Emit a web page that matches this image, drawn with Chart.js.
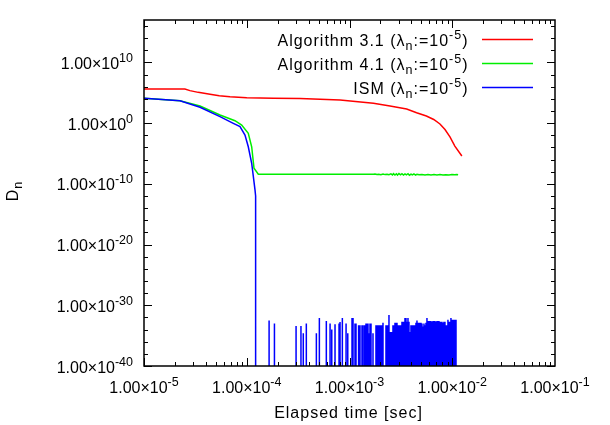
<!DOCTYPE html>
<html lang="en">
<head>
<meta charset="UTF-8">
<title>D_n vs elapsed time</title>
<script src="https://cdn.jsdelivr.net/npm/chart.js"></script>
<style>
  body { margin: 0; background: #fff; }
  canvas { display: block; }
</style>
</head>
<body>
<canvas id="dnChart" width="610" height="425"></canvas>
<script>
// Algorithm 3.1
const alg31Time = [1.0e-5, 2.5e-5, 2.8e-5, 3.37e-5, 4.39e-5, 5.4e-5, 6.87e-5, 1.0e-4, 1.82e-4, 3.3e-4, 8.1e-4,
  1.71e-3, 2.48e-3, 3.6e-3, 4.5e-3, 5.6e-3, 6.6e-3, 7.59e-3, 8.5e-3, 9.5e-3, 1.06e-2, 1.24e-2];
const alg31Dn = [4.3e5, 4.3e5, 2.3e5, 1.2e5, 5.8e4, 3.4e4, 2.3e4, 1.6e4, 1.3e4, 1.15e4, 6.6e3,
  1.9e3, 6.8e2, 2.2e2, 54, 15, 4.1, 0.74, 9.1e-2, 5.4e-3, 1.7e-4, 4.0e-6];

// Algorithm 4.1
const alg41Time = [1.0e-5, 1.5e-5, 2.24e-5, 3.51e-5, 5.49e-5, 7.68e-5, 8.93e-5, 1.035e-4, 1.117e-4, 1.177e-4, 1.296e-4, 1.71e-3,
  1.77e-3, 1.85e-3, 1.93e-3, 2.02e-3, 2.12e-3, 2.22e-3, 2.32e-3, 2.42e-3, 2.53e-3, 2.62e-3,
  2.68e-3, 2.77e-3, 2.86e-3, 2.93e-3, 3.03e-3, 3.14e-3, 3.24e-3, 3.35e-3, 3.47e-3, 3.58e-3,
  3.71e-3, 3.83e-3, 3.97e-3, 4.10e-3, 4.24e-3, 4.39e-3, 4.54e-3, 4.75e-3, 5.07e-3, 5.43e-3,
  5.80e-3, 6.21e-3, 6.64e-3, 7.10e-3, 7.59e-3, 8.12e-3, 8.68e-3, 9.29e-3, 9.93e-3, 1.06e-2,
  1.11e-2, 1.14e-2];
const alg41Dn = [1.26e4, 8.3e3, 5.1e3, 6.8e2, 22, 2.6, 0.5, 2.2e-2, 1.3e-4, 3.7e-8, 3.8e-9, 3.8e-9,
  4.2e-9, 3.5e-9, 4.0e-9, 3.3e-9, 4.3e-9, 3.4e-9, 3.9e-9, 3.2e-9, 4.4e-9, 3.0e-9,
  4.9e-9, 2.9e-9, 4.6e-9, 2.8e-9, 5.0e-9, 3.1e-9, 4.7e-9, 2.8e-9, 4.5e-9, 3.2e-9,
  4.8e-9, 2.7e-9, 4.2e-9, 3.0e-9, 4.4e-9, 2.9e-9, 3.9e-9, 3.1e-9, 3.6e-9, 3.0e-9,
  3.5e-9, 2.9e-9, 3.4e-9, 3.0e-9, 3.5e-9, 2.9e-9, 3.3e-9, 3.0e-9, 3.4e-9, 3.1e-9,
  3.6e-9, 3.3e-9];

// ISM: smooth part, then sharp drop below the axis
const ismTime = [1.0e-5, 1.5e-5, 2.24e-5, 3.51e-5, 5.49e-5, 7.40e-5, 8.60e-5, 9.61e-5, 1.035e-4, 1.117e-4, 1.203e-4, 1.22e-4];
const ismDn = [1.26e4, 8.0e3, 5.1e3, 4.2e2, 12, 0.96, 0.27, 1.1e-2, 1.3e-4, 2.5e-7, 1.0e-11, 1.0e-12];
// value between the spikes (far below the axis minimum)
const ismFloor = 1e-60;
// ISM spikes
const ismSpikeTime = [1.65e-4, 1.86e-4, 3.02e-4, 3.37e-4, 3.55e-4, 3.80e-4, 4.76e-4, 5.09e-4, 5.95e-4, 6.47e-4,
  6.72e-4, 7.23e-4, 7.91e-4, 8.09e-4, 8.52e-4, 9.26e-4, 9.62e-4,
  1.058e-3, 1.082e-3, 1.131e-3, 1.157e-3, 1.210e-3, 1.237e-3, 1.265e-3, 1.323e-3, 1.353e-3, 1.384e-3,
  1.415e-3, 1.447e-3, 1.480e-3, 1.513e-3, 1.548e-3, 1.583e-3, 1.619e-3, 1.693e-3, 1.810e-3, 1.851e-3,
  1.893e-3, 1.936e-3, 1.980e-3, 2.025e-3, 2.071e-3, 2.118e-3, 2.265e-3, 2.316e-3, 2.369e-3, 2.422e-3,
  2.477e-3, 2.533e-3, 2.591e-3, 2.649e-3, 2.709e-3, 2.771e-3, 2.834e-3, 2.898e-3, 2.963e-3, 3.031e-3,
  3.099e-3, 3.169e-3, 3.241e-3, 3.315e-3, 3.390e-3, 3.467e-3, 3.545e-3, 3.625e-3, 3.708e-3, 3.792e-3,
  3.878e-3, 3.965e-3, 4.055e-3, 4.147e-3, 4.241e-3, 4.337e-3, 4.435e-3, 4.535e-3, 4.638e-3, 4.743e-3,
  4.851e-3, 4.960e-3, 5.073e-3, 5.188e-3, 5.305e-3, 5.425e-3, 5.548e-3, 5.674e-3, 5.802e-3, 5.934e-3,
  6.068e-3, 6.206e-3, 6.346e-3, 6.490e-3, 6.637e-3, 6.787e-3, 6.941e-3, 7.098e-3, 7.259e-3, 7.423e-3,
  7.591e-3, 7.763e-3, 7.939e-3, 8.119e-3, 8.303e-3, 8.491e-3, 8.683e-3, 8.880e-3, 9.081e-3, 9.287e-3,
  9.497e-3, 9.712e-3, 9.932e-3, 1.017e-2, 1.040e-2, 1.064e-2, 1.088e-2];
const ismSpikeDn = [3.2e-33, 1.0e-33, 4.0e-34, 4.0e-34, 2.5e-35, 1.0e-33, 2.5e-35, 7.9e-33, 2.5e-33, 1.0e-33,
  1.0e-34, 7.9e-34, 1.0e-33, 1.8e-33, 7.9e-33, 1.0e-33, 2.5e-35,
  7.9e-33, 7.9e-33, 1.0e-33, 1.0e-33, 5.0e-34, 5.0e-34, 5.0e-34, 5.0e-34, 5.0e-34, 5.0e-34,
  5.0e-34, 1.0e-33, 1.0e-33, 1.0e-33, 2.5e-35, 1.0e-33, 1.0e-33, 2.5e-35, 5.0e-34, 5.0e-34,
  5.0e-34, 5.0e-34, 5.0e-34, 5.0e-34, 5.0e-34, 1.3e-33, 5.0e-34, 5.0e-34, 5.0e-34, 2.5e-32,
  4.0e-35, 4.0e-35, 4.0e-35, 5.0e-34, 5.0e-34, 1.3e-33, 1.3e-33, 1.3e-33, 5.0e-34, 5.0e-34,
  5.0e-34, 5.0e-34, 2.0e-33, 2.0e-33, 2.0e-33, 7.9e-33, 7.9e-33, 2.0e-33, 7.9e-33, 2.0e-33,
  4.0e-35, 5.0e-34, 5.0e-34, 5.0e-34, 5.0e-34, 5.0e-34, 1.3e-33, 3.2e-33, 1.3e-33, 1.3e-33,
  1.3e-33, 1.3e-33, 1.0e-33, 3.2e-34, 1.0e-33, 5.0e-34, 1.3e-33, 7.9e-33, 2.5e-33, 2.5e-33,
  2.5e-33, 2.5e-33, 2.0e-33, 2.5e-33, 2.5e-33, 2.5e-33, 2.0e-33, 2.5e-33, 2.5e-33, 2.5e-33,
  2.0e-33, 2.0e-33, 2.0e-33, 1.3e-33, 2.0e-33, 2.0e-33, 5.0e-34, 5.0e-34, 4.0e-33, 2.0e-33,
  2.0e-33, 7.9e-33, 4.0e-33, 4.0e-33, 4.0e-33, 4.0e-33, 4.0e-33];

const seriesNames = ['Algorithm 3.1', 'Algorithm 4.1', 'ISM'];
const seriesColors = ['#ff0000', '#00ee00', '#0000ff'];

// axes
const xMin = 1e-5, xMax = 1e-1;
const yMin = 1e-40, yMax = 1e17;
const xTicks = [1e-5, 1e-4, 1e-3, 1e-2, 1e-1];
const xTickExp = ['-5', '-4', '-3', '-2', '-1'];
const yTicks = [1e-40, 1e-30, 1e-20, 1e-10, 1e0, 1e10];
const yTickExp = ['-40', '-30', '-20', '-10', '0', '10'];

const FONT = '"Liberation Sans", Arial, Helvetica, sans-serif';

function toPoints(xs, ys) {
  return xs.map((x, i) => ({ x: x, y: ys[i] }));
}

const ismPoints = toPoints(ismTime, ismDn);
ismPoints.push({ x: ismTime[ismTime.length - 1], y: ismFloor });
ismSpikeTime.forEach((t, i) => {
  ismPoints.push({ x: t, y: ismFloor }, { x: t, y: ismSpikeDn[i] }, { x: t, y: ismFloor });
});

// text with ^sup / _sub parts: [[text, ''|'sup'|'sub'], ...]
function partFont(kind) {
  return kind ? '12.5px ' + FONT : '16px ' + FONT;
}
function richWidth(ctx, parts) {
  let w = 0;
  parts.forEach(p => { ctx.font = partFont(p[1]); w += ctx.measureText(p[0]).width; });
  return w;
}
function drawRich(ctx, parts, x, y, align) {
  const w = richWidth(ctx, parts);
  let cx = align === 'right' ? x - w : align === 'center' ? x - w / 2 : x;
  ctx.textAlign = 'left';
  ctx.textBaseline = 'alphabetic';
  parts.forEach(p => {
    ctx.font = partFont(p[1]);
    const dy = p[1] === 'sup' ? -7 : p[1] === 'sub' ? 4 : 0;
    ctx.fillText(p[0], cx, y + dy);
    cx += ctx.measureText(p[0]).width;
  });
}

const framePlugin = {
  id: 'gnuplotFrame',
  afterDatasetsDraw(chart) {
    const { ctx, chartArea: a, scales: { x, y } } = chart;
    ctx.save();
    ctx.strokeStyle = '#000';
    ctx.fillStyle = '#000';

    // ticks (inward, mirrored)
    ctx.lineWidth = 1;
    ctx.beginPath();
    const yTick = (v, len) => {
      const py = Math.round(y.getPixelForValue(v)) + 0.5;
      ctx.moveTo(a.left, py); ctx.lineTo(a.left + len, py);
      ctx.moveTo(a.right, py); ctx.lineTo(a.right - len, py);
    };
    const xTick = (v, len) => {
      const px = Math.round(x.getPixelForValue(v)) + 0.5;
      ctx.moveTo(px, a.bottom); ctx.lineTo(px, a.bottom - len);
      ctx.moveTo(px, a.top); ctx.lineTo(px, a.top + len);
    };
    for (let e = -40; e <= 16; e += 2) yTick(Math.pow(10, e), e % 10 === 0 ? 8 : 4);
    for (let e = -5; e < -1; e++) {
      xTick(Math.pow(10, e), 8);
      for (let m = 2; m <= 9; m++) xTick(m * Math.pow(10, e), 4);
    }
    ctx.stroke();

    // border
    ctx.lineWidth = 1.5;
    ctx.strokeRect(a.left, a.top, a.right - a.left, a.bottom - a.top);

    // tick labels
    ctx.letterSpacing = '0px';
    yTicks.forEach((v, i) => {
      drawRich(ctx, [['1.00\u00d710', ''], [yTickExp[i], 'sup']], 133, y.getPixelForValue(v) + 6.5, 'right');
    });
    xTicks.forEach((v, i) => {
      drawRich(ctx, [['1.00\u00d710', ''], [xTickExp[i], 'sup']], x.getPixelForValue(v), a.bottom + 27, 'center');
    });

    // axis titles
    ctx.letterSpacing = '1px';
    drawRich(ctx, [['Elapsed time [sec]', '']], (a.left + a.right) / 2 - 1, 417.5, 'center');
    ctx.save();
    ctx.translate(18, 191);
    ctx.rotate(-Math.PI / 2);
    drawRich(ctx, [['D', ''], ['n', 'sub']], 0, 0, 'center');
    ctx.restore();

    // legend (gnuplot style: text right aligned, sample line right)
    const rowY = [39.5, 63.5, 87.5];
    seriesNames.forEach((name, i) => {
      ctx.fillStyle = '#000';
      drawRich(ctx, [[name + ' (\u03bb', ''], ['n', 'sub'], [':=10', ''], ['-5', 'sup'], [')', '']],
        468.5, rowY[i] + 6.5, 'right');
      ctx.strokeStyle = seriesColors[i];
      ctx.lineWidth = 1.5;
      ctx.beginPath();
      ctx.moveTo(482, rowY[i]);
      ctx.lineTo(533, rowY[i]);
      ctx.stroke();
    });
    ctx.restore();
  }
};

const lineStyle = { borderWidth: 1.5, pointRadius: 0, fill: false, tension: 0 };

new Chart(document.getElementById('dnChart').getContext('2d'), {
  type: 'line',
  data: {
    datasets: [
      Object.assign({ label: seriesNames[0], data: toPoints(alg31Time, alg31Dn), borderColor: seriesColors[0], order: 3 }, lineStyle),
      Object.assign({ label: seriesNames[1], data: toPoints(alg41Time, alg41Dn), borderColor: seriesColors[1], order: 2 }, lineStyle),
      Object.assign({ label: seriesNames[2], data: ismPoints, borderColor: seriesColors[2], order: 1 }, lineStyle)
    ]
  },
  options: {
    responsive: false,
    animation: false,
    devicePixelRatio: 1,
    layout: { padding: { left: 144, right: 55, top: 20, bottom: 59 } },
    scales: {
      x: { type: 'logarithmic', min: xMin, max: xMax, display: false },
      y: { type: 'logarithmic', min: yMin, max: yMax, display: false }
    },
    plugins: {
      legend: { display: false },
      tooltip: { enabled: false }
    }
  },
  plugins: [framePlugin]
});
</script>
</body>
</html>
